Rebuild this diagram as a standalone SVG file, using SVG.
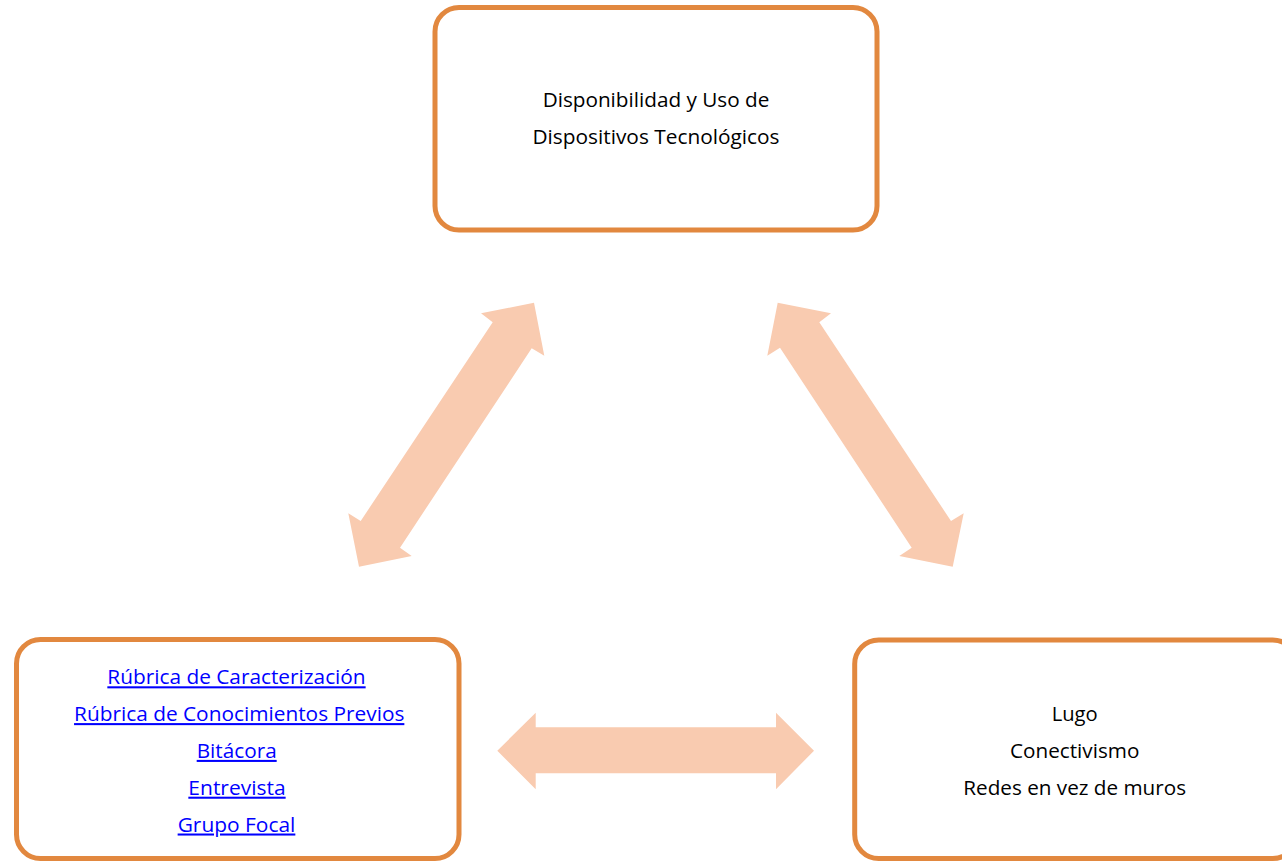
<svg xmlns="http://www.w3.org/2000/svg" width="1282" height="861" viewBox="0 0 1282 861">
  <style>
    .box { fill: #FFFFFF; stroke: #E2883F; stroke-width: 5; }
    .arrow { fill: #F9CBB0; stroke: none; }
    .t { font-family: "Open Sans", "Noto Sans", "Liberation Sans", sans-serif; font-size: 20.5px; text-anchor: middle; fill: #000000; }
    .link { fill: #0000FF; text-decoration: underline; }
  </style>
  <rect width="1282" height="861" fill="#FFFFFF"/>
  <g id="connectors">
    <polygon class="arrow" points="534,302.7 544.3,355.7 531.7,348.3 400,547.7 411.7,556 359,566.7 348.3,513.3 360.7,521 492.7,322.3 481,313.3"/>
    <polygon class="arrow" points="777.7,302.7 831,313.3 819.3,322.3 951,521 963.7,513.3 952.7,566.7 899.3,556 911.7,547.7 780,347.7 767.3,355.7"/>
    <polygon class="arrow" points="497.3,750.7 535.7,712.7 535.7,727.3 776,727.3 776,712.7 814,750.7 776,789.3 776,773.3 535.7,773.3 535.7,789.3"/>
  </g>
  <g id="node-top">
    <rect class="box" x="435" y="7.5" width="442" height="222.5" rx="24" ry="24"/>
    <text class="t" x="656" y="107.3" textLength="226.7" lengthAdjust="spacingAndGlyphs">Disponibilidad y Uso de</text>
    <text class="t" x="656" y="144" textLength="247" lengthAdjust="spacingAndGlyphs">Dispositivos Tecnológicos</text>
  </g>
  <g id="node-left">
    <rect class="box" x="16.5" y="639.5" width="442.5" height="219" rx="24" ry="24"/>
    <text class="t link" x="236.5" y="684.3" textLength="258.3" lengthAdjust="spacingAndGlyphs">Rúbrica de Caracterización</text>
    <text class="t link" x="239.2" y="721.1" textLength="330.3" lengthAdjust="spacingAndGlyphs">Rúbrica de Conocimientos Previos</text>
    <text class="t link" x="236.7" y="757.9" textLength="80" lengthAdjust="spacingAndGlyphs">Bitácora</text>
    <text class="t link" x="237" y="794.7" textLength="97.3" lengthAdjust="spacingAndGlyphs">Entrevista</text>
    <text class="t link" x="236.5" y="831.5" textLength="117.7" lengthAdjust="spacingAndGlyphs">Grupo Focal</text>
  </g>
  <g id="node-right">
    <rect class="box" x="854.7" y="640" width="442" height="218.5" rx="24" ry="24"/>
    <text class="t" x="1074.7" y="721.1" textLength="46" lengthAdjust="spacingAndGlyphs">Lugo</text>
    <text class="t" x="1074.7" y="757.9" textLength="129.3" lengthAdjust="spacingAndGlyphs">Conectivismo</text>
    <text class="t" x="1074.7" y="794.7" textLength="222.7" lengthAdjust="spacingAndGlyphs">Redes en vez de muros</text>
  </g>
</svg>
